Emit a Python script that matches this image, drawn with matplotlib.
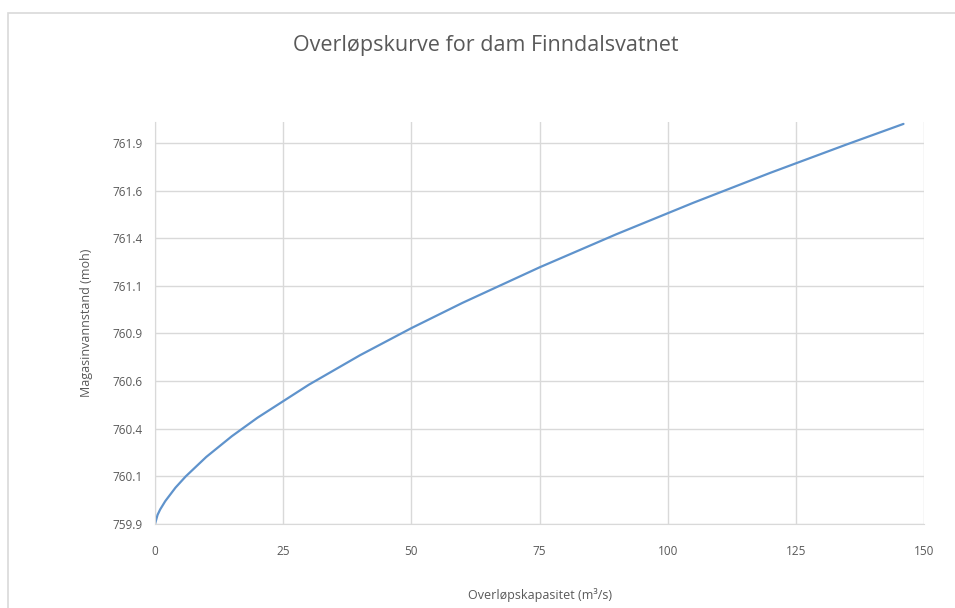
import matplotlib
matplotlib.use("Agg")
import matplotlib.pyplot as plt
from matplotlib.patches import Rectangle
from matplotlib.ticker import FuncFormatter

# overflow capacity (m3/s) vs reservoir level (moh)
kapasitet = [0, 0.5, 1, 2, 4, 6, 10, 15, 20, 30, 40, 50, 60, 75, 90, 105, 120, 135, 146]
vannstand = [759.875, 759.923, 759.951, 759.995, 760.066, 760.125, 760.227, 760.336,
             760.433, 760.606, 760.761, 760.903, 761.036, 761.222, 761.396, 761.561,
             761.718, 761.868, 761.975]
x_ticks = [0, 25, 50, 75, 100, 125, 150]
y_ticks = [759.875, 760.125, 760.375, 760.625, 760.875, 761.125, 761.375, 761.625, 761.875]

plt.rcParams['font.family'] = ['Open Sans', 'DejaVu Sans']
txt = "#595959"
grid = "#d9d9d9"

fig = plt.figure(figsize=(9.55, 6.08), dpi=100)
ax = fig.add_axes([155/955, 1-524/608, (924-155)/955, (524-122)/608])

# chart border like Excel
fig.patches.append(Rectangle((8/955, -0.01), 1.0, 1-13/608+0.01, transform=fig.transFigure,
                             fill=False, edgecolor="#d9d9d9", lw=1.2))

ax.plot(kapasitet, vannstand, color="#5f93cc", lw=1.6, solid_capstyle="round")

ax.set_xlim(0, 150)
ax.set_ylim(759.875, 761.985)
ax.set_xticks(x_ticks)
ax.set_yticks(y_ticks)
ax.yaxis.set_major_formatter(FuncFormatter(lambda v, p: "%.1f" % round(v + 1e-6, 1)))
ax.grid(True, color=grid, lw=1)
ax.set_axisbelow(True)
for s in ax.spines.values():
    s.set_visible(False)
ax.spines['left'].set_visible(True)
ax.spines['bottom'].set_visible(True)
ax.spines['left'].set_color(grid)
ax.spines['bottom'].set_color(grid)
ax.tick_params(axis='y', length=0, colors=txt, labelsize=8.5, pad=9)
ax.tick_params(axis='x', length=0, colors=txt, labelsize=8.5, pad=15)

ax.set_xlabel("Overløpskapasitet (m³/s)", color=txt, fontsize=9, labelpad=22)
ax.set_ylabel("Magasinvannstand (moh)", color=txt, fontsize=9, labelpad=14)
fig.text(486/955, 1-45/608, "Overløpskurve for dam Finndalsvatnet", ha="center", va="center",
         color=txt, fontsize=15.5)

fig.savefig("out.png", dpi=100)
